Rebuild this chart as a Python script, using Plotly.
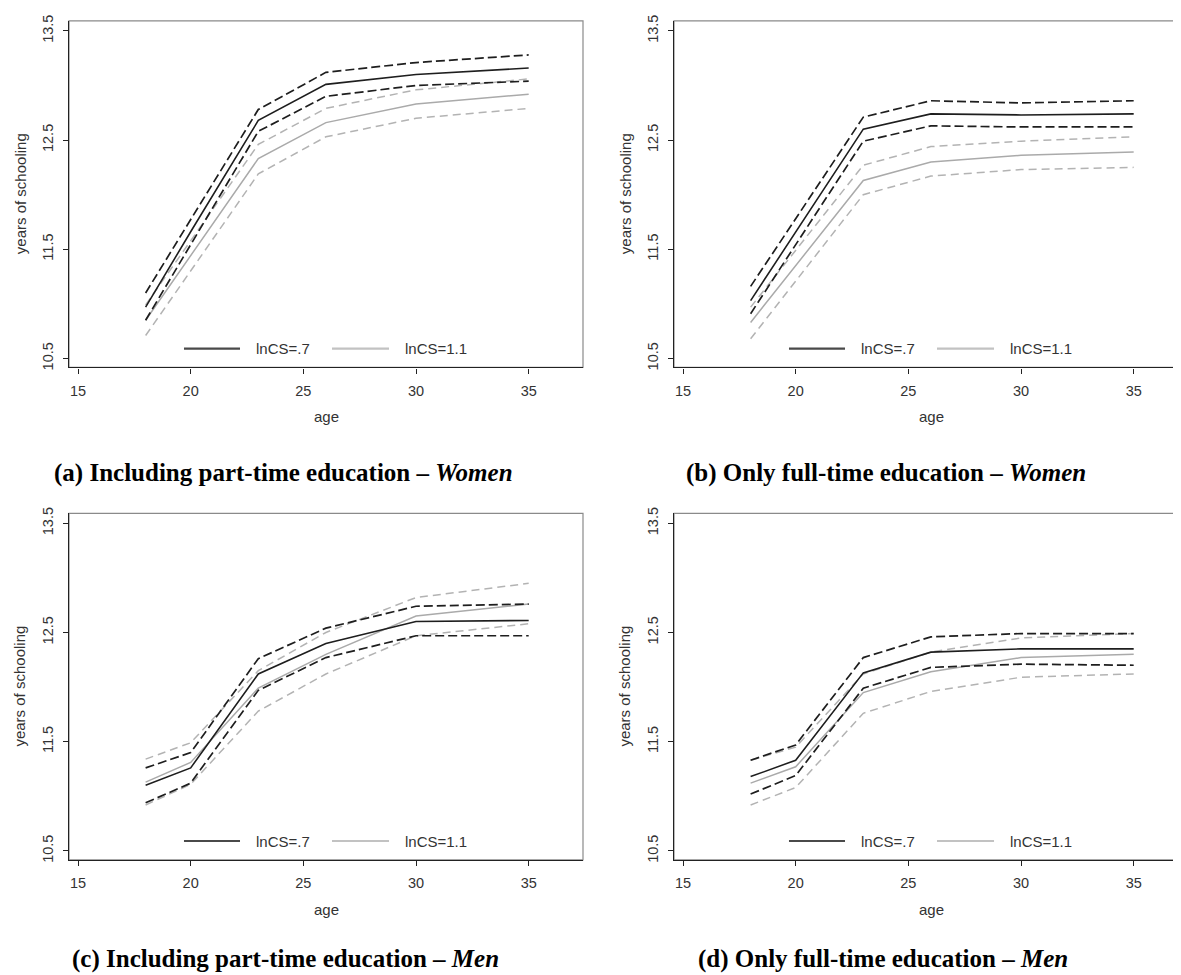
import plotly.graph_objects as go

# ---------------- data ----------------
ages = [18, 20, 23, 26, 30, 35]

# panel (a): Including part-time education - Women
a_est07 = [10.97, 11.66, 12.68, 13.01, 13.10, 13.16]
a_hi07 = [11.10, 11.77, 12.78, 13.12, 13.21, 13.28]
a_lo07 = [10.85, 11.54, 12.58, 12.90, 13.00, 13.04]
a_est11 = [10.85, 11.44, 12.33, 12.66, 12.83, 12.92]
a_hi11 = [10.99, 11.58, 12.46, 12.79, 12.96, 13.06]
a_lo11 = [10.71, 11.30, 12.19, 12.53, 12.70, 12.79]

# panel (b): Only full-time education - Women
b_est07 = [11.03, 11.66, 12.60, 12.74, 12.73, 12.74]
b_hi07 = [11.16, 11.78, 12.71, 12.86, 12.84, 12.86]
b_lo07 = [10.91, 11.54, 12.49, 12.63, 12.62, 12.62]
b_est11 = [10.83, 11.35, 12.13, 12.30, 12.36, 12.39]
b_hi11 = [10.97, 11.49, 12.27, 12.44, 12.49, 12.53]
b_lo11 = [10.68, 11.21, 12.00, 12.17, 12.23, 12.25]

# panel (c): Including part-time education - Men
c_est07 = [11.10, 11.26, 12.12, 12.40, 12.60, 12.61]
c_hi07 = [11.26, 11.40, 12.26, 12.54, 12.74, 12.76]
c_lo07 = [10.94, 11.12, 11.97, 12.27, 12.47, 12.47]
c_est11 = [11.13, 11.31, 11.99, 12.30, 12.65, 12.76]
c_hi11 = [11.34, 11.49, 12.15, 12.50, 12.82, 12.95]
c_lo11 = [10.92, 11.11, 11.78, 12.12, 12.47, 12.58]

# panel (d): Only full-time education - Men
d_est07 = [11.18, 11.33, 12.13, 12.32, 12.35, 12.35]
d_hi07 = [11.33, 11.47, 12.27, 12.46, 12.49, 12.49]
d_lo07 = [11.02, 11.19, 11.99, 12.18, 12.21, 12.20]
d_est11 = [11.12, 11.27, 11.95, 12.14, 12.27, 12.30]
d_hi11 = [11.33, 11.45, 12.12, 12.32, 12.45, 12.49]
d_lo11 = [10.92, 11.08, 11.76, 11.96, 12.09, 12.12]

x_ticks = [15, 20, 25, 30, 35]
y_ticks = [10.5, 11.5, 12.5, 13.5]
legend_labels = ["lnCS=.7", "lnCS=1.1"]
x_title = "age"
y_title = "years of schooling"
captions = [
    ("(a) Including part-time education – ", "Women"),
    ("(b) Only full-time education – ", "Women"),
    ("(c) Including part-time education – ", "Men"),
    ("(d) Only full-time education – ", "Men"),
]

panels = [
    (a_est07, a_hi07, a_lo07, a_est11, a_hi11, a_lo11),
    (b_est07, b_hi07, b_lo07, b_est11, b_hi11, b_lo11),
    (c_est07, c_hi07, c_lo07, c_est11, c_hi11, c_lo11),
    (d_est07, d_hi07, d_lo07, d_est11, d_hi11, d_lo11),
]

# ---------------- layout geometry (pixels) ----------------
W, H = 1181, 975
frames = [  # left, right, top, bottom
    (61, 575, 7, 356.7),
    (666, 1180, 7, 356.7),
    (61, 575, 504, 853.7),
    (666, 1180, 504, 853.7),
]
cap_pos = [(275, 463), (878, 463), (277, 954), (875, 954)]

BLACK = "#1e1e1e"
GRAY = "#aaaaaa"
GRAYD = "#b3b3b3"
AXC = "#222222"
BORDER = "#8a8a8a"
FONT = "Liberation Sans, Arial, sans-serif"
TXT = "#333333"

fig = go.Figure()
layout = dict(
    width=W, height=H,
    margin=dict(l=0, r=0, t=0, b=0),
    paper_bgcolor="white", plot_bgcolor="white",
    showlegend=False,
    font=dict(family=FONT, size=15, color=TXT),
)
shapes = []
annotations = []

for i, (vals, fr) in enumerate(zip(panels, frames)):
    est07, hi07, lo07, est11, hi11, lo11 = vals
    n = "" if i == 0 else str(i + 1)
    xa, ya = "x" + n, "y" + n
    series = [
        (est11, GRAY, "solid", 1.5),
        (hi11, GRAYD, "8px,5px", 1.5),
        (lo11, GRAYD, "8px,5px", 1.5),
        (est07, BLACK, "solid", 1.6),
        (hi07, BLACK, "9px,4px", 1.7),
        (lo07, BLACK, "9px,4px", 1.7),
    ]
    for ys, col, dash, wdt in series:
        fig.add_trace(go.Scatter(x=ages, y=ys, mode="lines", xaxis=xa, yaxis=ya,
                                 line=dict(color=col, dash=dash, width=wdt),
                                 hoverinfo="skip"))
    l, r, t, b = fr
    layout["xaxis" + n] = dict(
        domain=[l / W, r / W], range=[14.6, 37.41], anchor=ya,
        tickvals=x_ticks, ticks="outside", ticklen=5, tickwidth=1.2, tickcolor=AXC,
        ticklabelstandoff=5,
        showline=True, linecolor=AXC, linewidth=1.3, mirror=False,
        showgrid=False, zeroline=False,
        tickfont=dict(size=14.5, color=TXT),
    )
    layout["yaxis" + n] = dict(
        domain=[1 - b / H, 1 - t / H], range=[10.418, 13.591], anchor=xa,
        tickvals=y_ticks, ticktext=[f"{v:.1f}" for v in y_ticks],
        ticks="outside", ticklen=5, tickwidth=1.2, tickcolor=AXC, tickangle=-90,
        ticklabelstandoff=4,
        showline=True, linecolor=AXC, linewidth=1.3, mirror=False,
        showgrid=False, zeroline=False,
        tickfont=dict(size=14.5, color=TXT),
    )
    # plot-region border (top and right appear lighter)
    shapes.append(dict(type="rect", xref="paper", yref="paper", layer="below",
                       x0=l / W, x1=r / W, y0=1 - b / H, y1=1 - t / H,
                       line=dict(color=BORDER, width=1.2), fillcolor="rgba(0,0,0,0)"))
    # axis titles
    annotations.append(dict(xref="paper", yref="paper", x=(l + r) / 2 / W, y=1 - (b + 50) / H,
                            text=x_title, showarrow=False, xanchor="center", yanchor="middle",
                            font=dict(size=15, color=TXT, family=FONT)))
    annotations.append(dict(xref="paper", yref="paper", x=(l - 49) / W, y=1 - (t + b) / 2 / H,
                            text=y_title, showarrow=False, xanchor="center", yanchor="middle",
                            textangle=-90, font=dict(size=15, color=TXT, family=FONT)))
    # legend keys
    xd, yd = "x" + n + " domain", "y" + n + " domain"
    ly = 0.0543
    for (x0, x1, tx), col, lab in zip([(0.2237, 0.3327, 0.36), (0.5117, 0.6226, 0.6498)],
                                      ["#4a4a4a", "#c2c2c2"], legend_labels):
        shapes.append(dict(type="line", xref=xd, yref=yd, x0=x0, x1=x1, y0=ly, y1=ly,
                           line=dict(color=col, width=2.2)))
        annotations.append(dict(xref=xd, yref=yd, x=tx, y=ly, text=lab, showarrow=False,
                                xanchor="left", yanchor="middle",
                                font=dict(size=15, color=TXT, family=FONT)))
    # caption
    cx, cy = cap_pos[i]
    main, ital = captions[i]
    annotations.append(dict(xref="paper", yref="paper", x=cx / W, y=1 - cy / H,
                            text=f"<b>{main}<i>{ital}</i></b>", showarrow=False,
                            xanchor="center", yanchor="middle",
                            font=dict(size=25, color="black",
                                      family="Liberation Serif, Times New Roman, serif")))

layout["shapes"] = shapes
layout["annotations"] = annotations
fig.update_layout(**layout)
fig.write_html("out.html")
